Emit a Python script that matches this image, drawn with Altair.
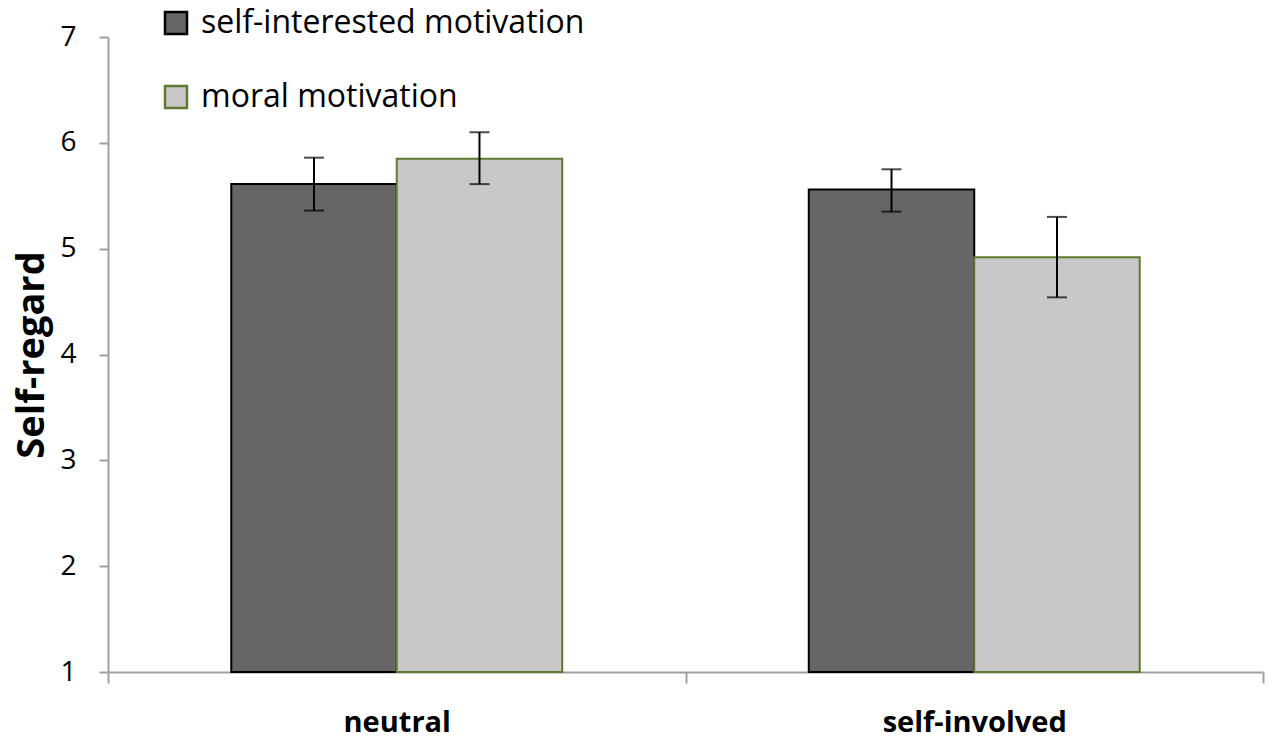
import altair as alt
import pandas as pd

conditions = ["neutral", "self-involved"]
motivations = ["self-interested motivation", "moral motivation"]
# means per condition, in motivation order
means_neutral = [5.61, 5.85]
means_involved = [5.56, 4.92]
lower_neutral = [5.36, 5.61]
upper_neutral = [5.86, 6.10]
lower_involved = [5.35, 4.54]
upper_involved = [5.75, 5.30]
y_ticks = [1, 2, 3, 4, 5, 6, 7]

fill_colors = ["#666666", "#c8c8c8"]
stroke_colors = ["#000000", "#5f7a30"]

rows = []
for cond, ms, lo, hi in [
    ("neutral", means_neutral, lower_neutral, upper_neutral),
    ("self-involved", means_involved, lower_involved, upper_involved),
]:
    for mot, m, l, h in zip(motivations, ms, lo, hi):
        rows.append({"condition": cond, "motivation": mot, "mean": m, "lo": l, "hi": h})
df = pd.DataFrame(rows)

FONT = "Open Sans"

x_enc = alt.X(
    "condition:N",
    sort=conditions,
    scale=alt.Scale(paddingInner=0, paddingOuter=0),
    axis=alt.Axis(
        title=None,
        orient="bottom",
        tickBand="extent",
        tickSize=11,
        tickWidth=2,
        tickColor="#a0a0a0",
        domainColor="#a0a0a0",
        domainWidth=2,
        labelAngle=0,
        labelFont=FONT,
        labelFontSize=29,
        labelFontWeight="bold",
        labelColor="black",
        labelBaseline="alphabetic",
        labelPadding=48,
        labelLimit=0,
        grid=False,
    ),
)
xoff = alt.XOffset(
    "motivation:N",
    sort=motivations,
    scale=alt.Scale(paddingInner=0, paddingOuter=0.745),
)
y_scale = alt.Scale(domain=[1, 7], nice=False, zero=False)

legend_cfg = dict(
    title=None,
    orient="none",
    legendX=52,
    legendY=-30,
    direction="vertical",
    symbolType="square",
    symbolSize=484,
    symbolStrokeWidth=2.5,
    labelFont=FONT,
    labelFontSize=32,
    labelColor="black",
    labelOffset=9,
    labelLimit=0,
    rowPadding=42,
)

base = alt.Chart(df).encode(x=x_enc, xOffset=xoff)

bars = base.mark_bar(strokeWidth=2).encode(
    y=alt.Y(
        "mean:Q",
        scale=y_scale,
        axis=alt.Axis(
            values=y_ticks,
            format="d",
            orient="left",
            tickSize=9,
            tickWidth=2,
            tickColor="#a0a0a0",
            domainColor="#a0a0a0",
            domainWidth=2,
            grid=False,
            labelFont=FONT,
            labelFontSize=28,
            labelColor="black",
            labelPadding=23,
            title="Self-regard",
            titleFont=FONT,
            titleFontSize=38,
            titleFontWeight="bold",
            titleColor="black",
            titleAngle=270,
            titleAlign="center",
            titleBaseline="alphabetic",
            titleX=-65,
            titleY=317.5,
        ),
    ),
    y2=alt.datum(1),
    fill=alt.Fill(
        "motivation:N",
        sort=motivations,
        scale=alt.Scale(domain=motivations, range=fill_colors),
        legend=alt.Legend(**legend_cfg),
    ),
    stroke=alt.Stroke(
        "motivation:N",
        sort=motivations,
        scale=alt.Scale(domain=motivations, range=stroke_colors),
        legend=alt.Legend(**legend_cfg),
    ),
)

rules = base.mark_rule(color="black", strokeWidth=2).encode(
    y=alt.Y("lo:Q", scale=y_scale), y2="hi:Q"
)
cap_hi = base.mark_tick(color="black", size=20, thickness=2).encode(
    y=alt.Y("hi:Q", scale=y_scale)
)
cap_lo = base.mark_tick(color="black", size=20, thickness=2).encode(
    y=alt.Y("lo:Q", scale=y_scale)
)

chart = (
    alt.layer(bars, rules, cap_hi, cap_lo)
    .properties(
        width=1155,
        height=635,
        padding={"left": 100, "top": 29, "right": 2, "bottom": 69},
        autosize=alt.AutoSizeParams(type="none"),
    )
    .configure_view(stroke=None)
)

chart.save("out.html", embed_options={"renderer": "svg", "actions": False})
